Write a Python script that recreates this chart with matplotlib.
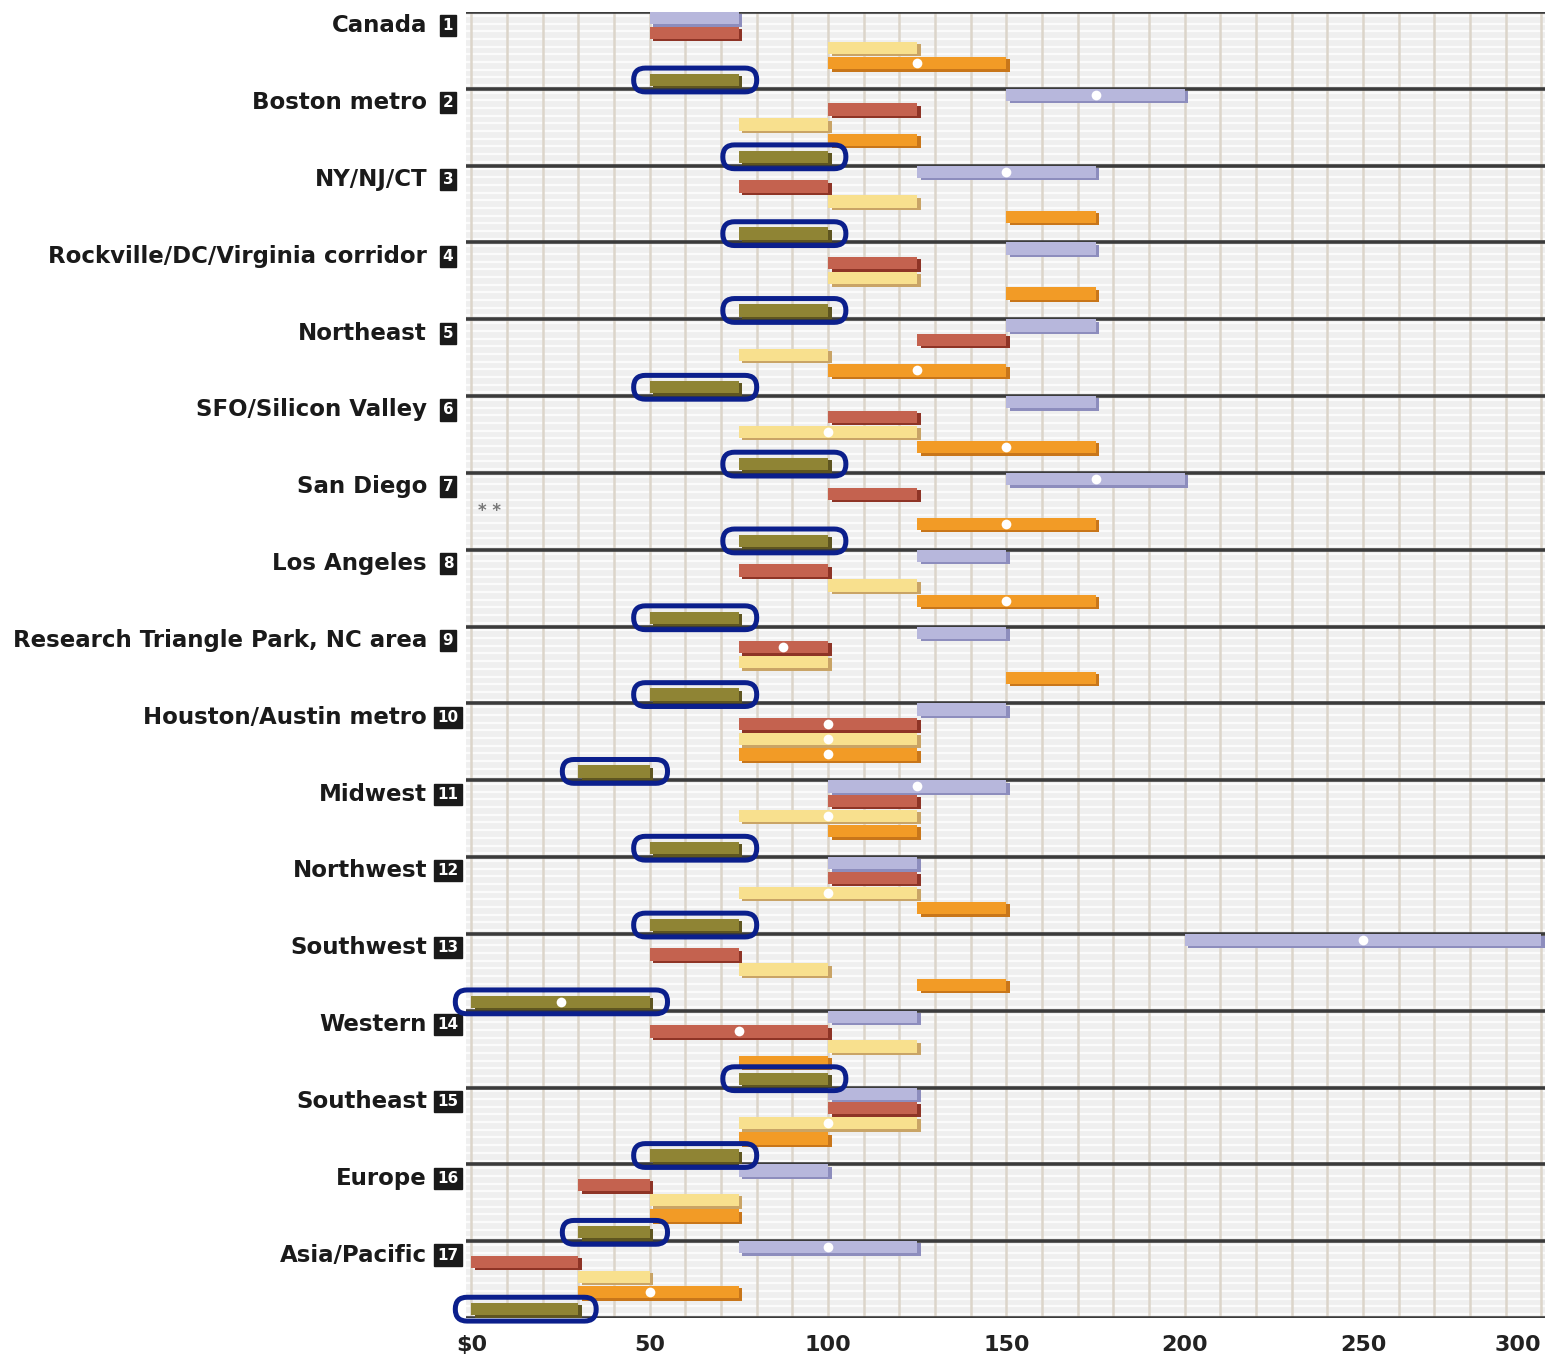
import numpy as np
import matplotlib
matplotlib.use("Agg")
import matplotlib.pyplot as plt
from matplotlib.patches import FancyBboxPatch
import matplotlib.transforms as mtransforms

nan = np.nan

regions = ['Canada', 'Boston metro', 'NY/NJ/CT', 'Rockville/DC/Virginia corridor',
           'Northeast', 'SFO/Silicon Valley', 'San Diego', 'Los Angeles',
           'Research Triangle Park, NC area', 'Houston/Austin metro', 'Midwest',
           'Northwest', 'Southwest', 'Western', 'Southeast', 'Europe', 'Asia/Pacific']

# salary ranges per series ($K): low, high, median marker
lav_lo = [50, 150, 125, 150, 150, 150, 150, 125, 125, 125, 100, 100, 200, 100, 100, 75, 75]
lav_hi = [75, 200, 175, 175, 175, 175, 200, 150, 150, 150, 150, 125, 300, 125, 125, 100, 125]
lav_mid = [nan, 175, 150, nan, nan, nan, 175, nan, nan, nan, 125, nan, 250, nan, nan, nan, 100]

red_lo = [50, 100, 75, 100, 125, 100, 100, 75, 75, 75, 100, 100, 50, 50, 100, 30, 0]
red_hi = [75, 125, 100, 125, 150, 125, 125, 100, 100, 125, 125, 125, 75, 100, 125, 50, 30]
red_mid = [nan, nan, nan, nan, nan, nan, nan, nan, 87.5, 100, nan, nan, nan, 75, nan, nan, nan]

yel_lo = [100, 75, 100, 100, 75, 75, nan, 100, 75, 75, 75, 75, 75, 100, 75, 50, 30]
yel_hi = [125, 100, 125, 125, 100, 125, nan, 125, 100, 125, 125, 125, 100, 125, 125, 75, 50]
yel_mid = [nan, nan, nan, nan, nan, 100, nan, nan, nan, 100, 100, 100, nan, nan, 100, nan, nan]

ora_lo = [100, 100, 150, 150, 100, 125, 125, 125, 150, 75, 100, 125, 125, 75, 75, 50, 30]
ora_hi = [150, 125, 175, 175, 150, 175, 175, 175, 175, 125, 125, 150, 150, 100, 100, 75, 75]
ora_mid = [125, nan, nan, nan, 125, 150, 150, 150, nan, 100, nan, nan, nan, nan, nan, nan, 50]

oli_lo = [50, 75, 75, 75, 50, 75, 75, 50, 50, 30, 50, 50, 0, 75, 50, 30, 0]
oli_hi = [75, 100, 100, 100, 75, 100, 100, 75, 75, 50, 75, 75, 50, 100, 75, 50, 30]
oli_mid = [nan, nan, nan, nan, nan, nan, nan, nan, nan, nan, nan, nan, 25, nan, nan, nan, nan]

missing_note = {6: (2, '* *')}  # San Diego, yellow row: no data

xticks = [0, 50, 100, 150, 200, 250, 300]
xticklabels = ['$0', '50', '100', '150', '200', '250', '300']

series = [
    (lav_lo, lav_hi, lav_mid, '#b7b7dc', '#8d8dbd'),
    (red_lo, red_hi, red_mid, '#c4624f', '#8e3426'),
    (yel_lo, yel_hi, yel_mid, '#f8e08e', '#c9a466'),
    (ora_lo, ora_hi, ora_mid, '#f29b26', '#c8761a'),
    (oli_lo, oli_hi, oli_mid, '#8f8434', '#5e5520'),
]
offsets = [0.08, 0.27, 0.465, 0.665, 0.885]
bar_h = 0.16

fig = plt.figure(figsize=(15.6, 13.58), dpi=100)
ax = fig.add_axes([466 / 1560, 40 / 1358, 1079 / 1560, 1306 / 1358])
ax.set_facecolor('#efefef')
n = len(regions)
ax.set_xlim(-1.5, 301)
ax.set_ylim(n, 0)

# background stripes and grid
for yy in np.arange(0, n, 0.1):
    ax.axhline(yy + 0.05, color='white', lw=1.6, alpha=0.8, zorder=0)
for xx in range(0, 301, 10):
    ax.axvline(xx, color='#dcd5ca', lw=1.8, zorder=1)
for k in range(n + 1):
    ax.axhline(k, color='#3b3b3b', lw=2.6, zorder=2)

for si, (lo, hi, mid, face, shade) in enumerate(series):
    for k in range(n):
        if np.isnan(lo[k]):
            continue
        y = k + offsets[si]
        w = hi[k] - lo[k]
        ax.barh(y + 0.03, w, left=lo[k] + 1.0, height=bar_h, color=shade, zorder=3)
        ax.barh(y, w, left=lo[k], height=bar_h, color=face, zorder=4)
        if not np.isnan(mid[k]):
            ax.plot(mid[k], y, 'o', ms=7, color='white', mec='none', zorder=5)
        if si == 4:
            box = FancyBboxPatch((lo[k] - 4.5, y - 0.155), w + 9.5, 0.31,
                                 boxstyle='round,pad=0,rounding_size=3.3',
                                 mutation_aspect=0.0464, fc='none',
                                 ec='#0b1f8c', lw=3.6, zorder=6, clip_on=False)
            ax.add_patch(box)

for k, (row, txt) in missing_note.items():
    ax.text(2, k + offsets[row] + 0.03, txt, ha='left', va='center',
            fontsize=12, color='#777777', fontweight='bold')

# region labels with numbered boxes
trans = mtransforms.blended_transform_factory(ax.transAxes, ax.transData)
for k, name in enumerate(regions):
    ax.text(-0.0361, k + 0.18, name, transform=trans, ha='right', va='center',
            fontsize=16.5, fontweight='bold', color='#1a1a1a')
    ax.text(-0.0167, k + 0.18, str(k + 1), transform=trans, ha='center', va='center',
            fontsize=11, fontweight='bold', color='white',
            bbox=dict(boxstyle='square,pad=0.2', fc='#1a1a1a', ec='#1a1a1a'))

ax.set_xticks(xticks)
ax.set_xticklabels(xticklabels, fontsize=16, fontweight='bold', color='#222222')
ax.get_xticklabels()[-1].set_ha('right')
ax.tick_params(axis='x', length=0, pad=12)
ax.set_yticks([])
for s in ax.spines.values():
    s.set_visible(False)

fig.savefig('out.png', dpi=100, facecolor='white')
